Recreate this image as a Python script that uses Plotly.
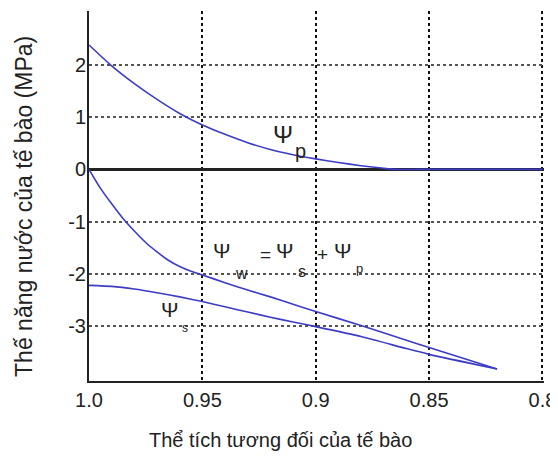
import plotly.graph_objects as go

# Relative cell volume (x) and potentials (MPa)
vol_p = [1.0, 0.99, 0.98, 0.97, 0.96, 0.95, 0.94, 0.93, 0.92, 0.91, 0.90, 0.89, 0.88, 0.87, 0.865, 0.85, 0.8]
psi_p = [2.38, 1.98, 1.64, 1.34, 1.07, 0.85, 0.67, 0.51, 0.38, 0.28, 0.20, 0.13, 0.07, 0.02, 0.0, 0.0, 0.0]

vol_w = [1.0, 0.995, 0.99, 0.985, 0.98, 0.975, 0.97, 0.965, 0.96, 0.955, 0.95, 0.94, 0.93, 0.92, 0.91, 0.90, 0.88, 0.86, 0.85, 0.82]
psi_w = [0.0, -0.36, -0.66, -0.94, -1.18, -1.40, -1.58, -1.74, -1.86, -1.95, -2.02, -2.17, -2.31, -2.44, -2.58, -2.72, -2.99, -3.27, -3.41, -3.82]

vol_s = [1.0, 0.99, 0.98, 0.97, 0.96, 0.95, 0.94, 0.93, 0.92, 0.91, 0.90, 0.88, 0.86, 0.85, 0.82]
psi_s = [-2.22, -2.24, -2.29, -2.36, -2.44, -2.53, -2.63, -2.73, -2.83, -2.92, -3.01, -3.20, -3.43, -3.54, -3.82]

x_ticks = [1.0, 0.95, 0.9, 0.85, 0.8]
x_labels = ["1.0", "0.95", "0.9", "0.85", "0.8"]
y_ticks = [-3, -2, -1, 0, 1, 2]
y_labels = ["-3", "-2", "-1", "0", "1", "2"]

x_title = "Thể tích tương đối của tế bào"
y_title = "Thế năng nước của tế bào (MPa)"

blue = "#3c3cc8"
fig = go.Figure()
for xs, ys in [(vol_p, psi_p), (vol_w, psi_w), (vol_s, psi_s)]:
    fig.add_trace(go.Scatter(x=xs, y=ys, mode="lines",
                             line=dict(color=blue, width=1.6, shape="spline", smoothing=0.5),
                             showlegend=False, hoverinfo="skip"))

font = "Liberation Sans, Arial, sans-serif"

def lab(x, y, t, size):
    fig.add_annotation(x=x, y=y, xref="x", yref="y", text=t, showarrow=False,
                       font=dict(family=font, size=size, color="#222"))

# Psi_p label
lab(0.9143, 0.66, "Ψ", 24)
lab(0.9068, 0.35, "p", 20)
# Psi_w = Psi_s + Psi_p
lab(0.9413, -1.55, "Ψ", 21)
lab(0.9327, -1.99, "w", 16)
lab(0.9220, -1.63, "=", 19)
lab(0.9136, -1.55, "Ψ", 21)
lab(0.9059, -1.96, "s", 16)
lab(0.8968, -1.63, "+", 19)
lab(0.8879, -1.55, "Ψ", 21)
lab(0.8805, -1.89, "p", 13)
# Psi_s
lab(0.9644, -2.677, "Ψ", 21)
lab(0.9578, -3.03, "s", 12)

# axis titles (placed as in the reference)
fig.add_annotation(x=0.42, y=-0.16, xref="paper", yref="paper", xanchor="center", yanchor="middle",
                   text=x_title, showarrow=False, font=dict(family=font, size=20, color="#222"))
fig.add_annotation(x=-0.143, y=0.473, xref="paper", yref="paper", xanchor="center", yanchor="middle",
                   text=y_title, showarrow=False, textangle=-90,
                   font=dict(family=font, size=23, color="#222"))

# the page body adds an 8 px offset, so the figure is 8 px smaller
fig.update_layout(
    width=550, height=450,
    margin=dict(l=81, r=14, t=3, b=77),
    paper_bgcolor="white", plot_bgcolor="white",
    font=dict(family=font, size=20, color="#222"),
    xaxis=dict(range=[1.0, 0.7993], tickvals=x_ticks, ticktext=x_labels, automargin=False,
               showline=True, linecolor="#222", linewidth=2,
               showgrid=True, gridcolor="#111", griddash="dot", gridwidth=1.5,
               ticks="", zeroline=False, tickfont=dict(size=20)),
    yaxis=dict(range=[-4.05, 3.03], tickvals=y_ticks, ticktext=y_labels, automargin=False,
               showline=True, linecolor="#222", linewidth=2,
               showgrid=True, gridcolor="#555", griddash="dot", gridwidth=1.5,
               zeroline=True, zerolinecolor="#222", zerolinewidth=2.5,
               ticks="", tickfont=dict(size=20), ticklabelstandoff=-3),
)

fig.write_html("out.html")
